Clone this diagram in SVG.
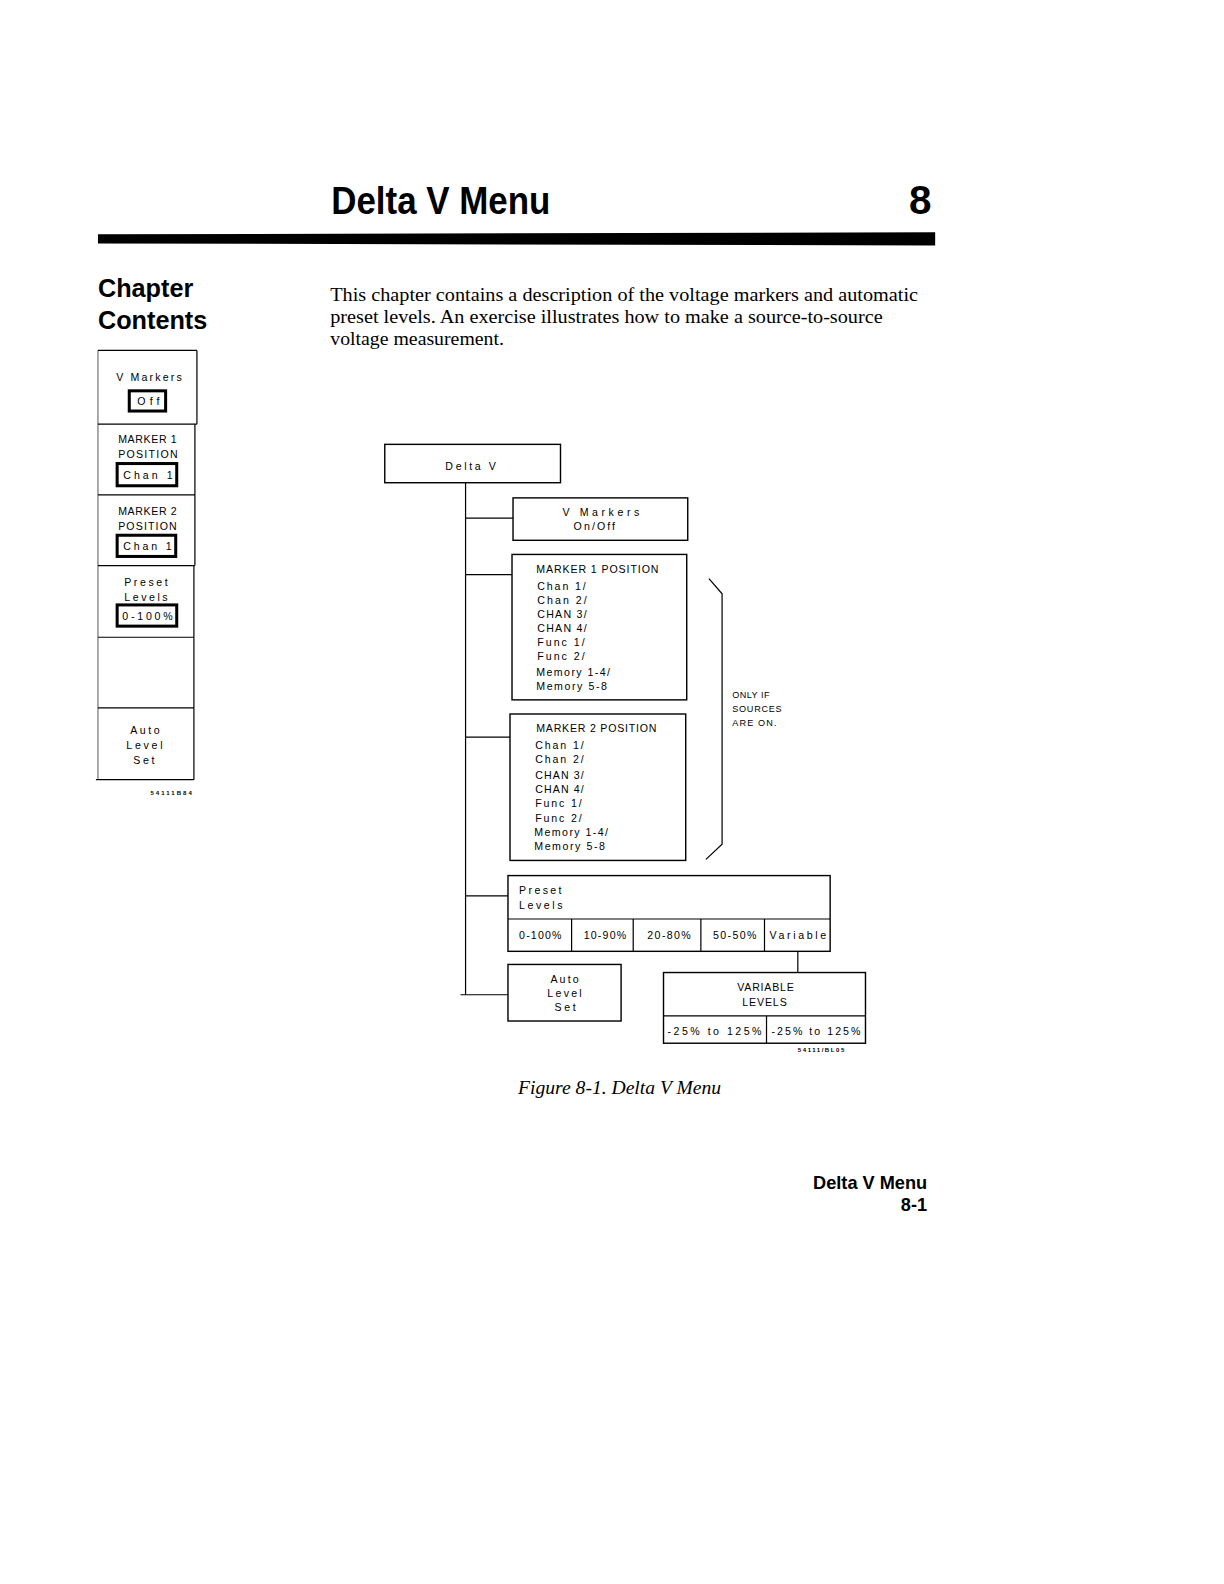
<svg xmlns="http://www.w3.org/2000/svg" width="1224" height="1584" viewBox="0 0 1224 1584">
<style>
.bg{fill:#fff}
.hd{font-family:"Liberation Sans",Arial,sans-serif;font-weight:bold;fill:#000}
.body{font-family:"Liberation Serif","Times New Roman",serif;font-size:19px;fill:#000}
.cap{font-family:"Liberation Serif","Times New Roman",serif;font-style:italic;font-size:18px;fill:#000}
.t{font-family:"Liberation Sans",Arial,sans-serif;font-size:10.5px;fill:#000}
.sm{font-family:"Liberation Sans",Arial,sans-serif;font-size:9px;fill:#000}
.tiny{font-family:"Liberation Sans",Arial,sans-serif;font-size:6px;font-weight:bold;fill:#000}
.box{fill:none;stroke:#000;stroke-width:1.4}
.sel{fill:none;stroke:#000;stroke-width:3}
.ln{fill:none;stroke:#000;stroke-width:1.2}
.faint{fill:none;stroke:#444;stroke-width:0.9}
</style>
<rect class="bg" x="0" y="0" width="1224" height="1584"/>
<g transform="scale(1.0099)">
<g id="header">
<text class="hd" x="328" y="212" font-size="39" textLength="217" lengthAdjust="spacingAndGlyphs">Delta V Menu</text>
<text class="hd" x="900" y="212" font-size="40">8</text>
<polygon points="97,232 926,230 926,243 97,241" fill="#000"/>
</g>
<g id="chapter-heading">
<text class="hd" x="97" y="294" font-size="25">Chapter</text>
<text class="hd" x="97" y="326" font-size="25">Contents</text>
</g>
<g id="intro">
<text class="body" x="327" y="298" textLength="582" lengthAdjust="spacingAndGlyphs">This chapter contains a description of the voltage markers and automatic</text>
<text class="body" x="327" y="320" textLength="547" lengthAdjust="spacingAndGlyphs">preset levels.  An exercise illustrates how to make a source-to-source</text>
<text class="body" x="327" y="342" textLength="172" lengthAdjust="spacingAndGlyphs">voltage measurement.</text>
</g>

<g id="softkey-menu">
<line class="faint" x1="97" y1="347" x2="97" y2="772"/>
<line class="ln" x1="195" y1="347" x2="195" y2="420"/>
<line class="ln" x1="193" y1="420" x2="193" y2="560"/>
<line class="ln" x1="192" y1="560" x2="192" y2="772"/>
<line class="ln" x1="97" y1="347" x2="195" y2="347"/>
<line class="ln" x1="97" y1="420" x2="195" y2="420"/>
<line class="ln" x1="97" y1="490" x2="193" y2="490"/>
<line class="ln" x1="97" y1="560" x2="193" y2="560"/>
<line class="ln" x1="97" y1="631" x2="192" y2="631"/>
<line class="ln" x1="97" y1="701" x2="192" y2="701"/>
<line class="ln" x1="95" y1="772" x2="192" y2="772"/>
<g id="sk-vmarkers">
<text class="t" x="115" y="377" textLength="65">V Markers</text>
<rect class="sel" x="128" y="387" width="36" height="20"/>
<text class="t" x="136" y="401" textLength="22">Off</text>
</g>
<g id="sk-marker1">
<text class="t" x="117" y="439" textLength="58">MARKER 1</text>
<text class="t" x="117" y="454" textLength="59">POSITION</text>
<rect class="sel" x="116" y="459" width="59" height="22"/>
<text class="t" x="122" y="474" textLength="49">Chan 1</text>
</g>
<g id="sk-marker2">
<text class="t" x="117" y="510" textLength="58">MARKER 2</text>
<text class="t" x="117" y="525" textLength="58">POSITION</text>
<rect class="sel" x="116" y="530" width="58" height="21"/>
<text class="t" x="122" y="545" textLength="48">Chan 1</text>
</g>
<g id="sk-preset">
<text class="t" x="123" y="580" textLength="43">Preset</text>
<text class="t" x="123" y="595" textLength="43">Levels</text>
<rect class="sel" x="116" y="599" width="59" height="21"/>
<text class="t" x="121" y="614" textLength="50">0-100%</text>
</g>
<g id="sk-auto">
<text class="t" x="129" y="727" textLength="29">Auto</text>
<text class="t" x="125" y="742" textLength="36">Level</text>
<text class="t" x="132" y="757" textLength="21">Set</text>
</g>
<text class="tiny" x="149" y="787" textLength="41">54111B84</text>
</g>

<g id="connectors">
<line class="ln" x1="461" y1="478" x2="461" y2="985"/>
<line class="ln" x1="461" y1="513" x2="508" y2="513"/>
<line class="ln" x1="461" y1="569" x2="507" y2="569"/>
<line class="ln" x1="461" y1="730" x2="505" y2="730"/>
<line class="ln" x1="461" y1="887" x2="503" y2="887"/>
<line class="ln" x1="456" y1="985" x2="503" y2="985"/>
<line class="ln" x1="790" y1="942" x2="790" y2="963"/>
<polyline class="ln" points="702,573 715,588 715,836 699,851"/>
</g>

<g id="delta-v">
<rect class="box" x="381" y="440" width="174" height="38"/>
<text class="t" x="441" y="465" textLength="50">Delta V</text>
</g>
<g id="v-markers">
<rect class="box" x="508" y="493" width="173" height="42"/>
<text class="t" x="557" y="511" textLength="76">V Markers</text>
<text class="t" x="568" y="525" textLength="41">On/Off</text>
</g>
<g id="marker1-position">
<rect class="box" x="507" y="549" width="173" height="144"/>
<text class="t" x="531" y="567" textLength="121">MARKER 1 POSITION</text>
<text class="t" x="532" y="584" textLength="48">Chan 1/</text>
<text class="t" x="532" y="598" textLength="49">Chan 2/</text>
<text class="t" x="532" y="612" textLength="49">CHAN 3/</text>
<text class="t" x="532" y="626" textLength="49">CHAN 4/</text>
<text class="t" x="532" y="640" textLength="47">Func 1/</text>
<text class="t" x="532" y="654" textLength="47">Func 2/</text>
<text class="t" x="531" y="669" textLength="73">Memory 1-4/</text>
<text class="t" x="531" y="683" textLength="70">Memory 5-8</text>
</g>
<g id="marker2-position">
<rect class="box" x="505" y="707" width="174" height="145"/>
<text class="t" x="531" y="725" textLength="119">MARKER 2 POSITION</text>
<text class="t" x="530" y="742" textLength="48">Chan 1/</text>
<text class="t" x="530" y="756" textLength="48">Chan 2/</text>
<text class="t" x="530" y="771" textLength="48">CHAN 3/</text>
<text class="t" x="530" y="785" textLength="48">CHAN 4/</text>
<text class="t" x="530" y="799" textLength="46">Func 1/</text>
<text class="t" x="530" y="814" textLength="46">Func 2/</text>
<text class="t" x="529" y="828" textLength="73">Memory 1-4/</text>
<text class="t" x="529" y="842" textLength="70">Memory 5-8</text>
</g>
<g id="note">
<text class="sm" x="725" y="691" textLength="37">ONLY IF</text>
<text class="sm" x="725" y="705" textLength="49">SOURCES</text>
<text class="sm" x="725" y="719" textLength="44">ARE ON.</text>
</g>
<g id="preset-levels">
<rect class="box" x="503" y="867" width="319" height="75"/>
<line class="ln" x1="503" y1="910" x2="822" y2="910"/>
<line class="ln" x1="566" y1="910" x2="566" y2="942"/>
<line class="ln" x1="627" y1="910" x2="627" y2="942"/>
<line class="ln" x1="694" y1="910" x2="694" y2="942"/>
<line class="ln" x1="757" y1="910" x2="757" y2="942"/>
<text class="t" x="514" y="885" textLength="42">Preset</text>
<text class="t" x="514" y="900" textLength="43">Levels</text>
<text class="t" x="514" y="930" textLength="42">0-100%</text>
<text class="t" x="578" y="930" textLength="42">10-90%</text>
<text class="t" x="641" y="930" textLength="43">20-80%</text>
<text class="t" x="706" y="930" textLength="43">50-50%</text>
<text class="t" x="762" y="930" textLength="56">Variable</text>
</g>
<g id="auto-level-set">
<rect class="box" x="503" y="955" width="112" height="56"/>
<text class="t" x="545" y="973" textLength="28">Auto</text>
<text class="t" x="542" y="987" textLength="34">Level</text>
<text class="t" x="549" y="1001" textLength="21">Set</text>
</g>
<g id="variable-levels">
<rect class="box" x="657" y="963" width="200" height="70"/>
<line class="ln" x1="657" y1="1006" x2="857" y2="1006"/>
<line class="ln" x1="759" y1="1006" x2="759" y2="1033"/>
<text class="t" x="730" y="981" textLength="56">VARIABLE</text>
<text class="t" x="735" y="996" textLength="44">LEVELS</text>
<text class="t" x="661" y="1025" textLength="93">-25% to 125%</text>
<text class="t" x="764" y="1025" textLength="88">-25% to 125%</text>
</g>
<text class="tiny" x="790" y="1042" textLength="46">54111/BL05</text>

<g id="caption">
<text class="cap" x="513" y="1083" textLength="201" lengthAdjust="spacingAndGlyphs">Figure 8-1.  Delta V Menu</text>
</g>
<g id="footer">
<text class="hd" x="918" y="1177" font-size="18" text-anchor="end">Delta V Menu</text>
<text class="hd" x="918" y="1199" font-size="18" text-anchor="end">8-1</text>
</g>
</g>
</svg>
